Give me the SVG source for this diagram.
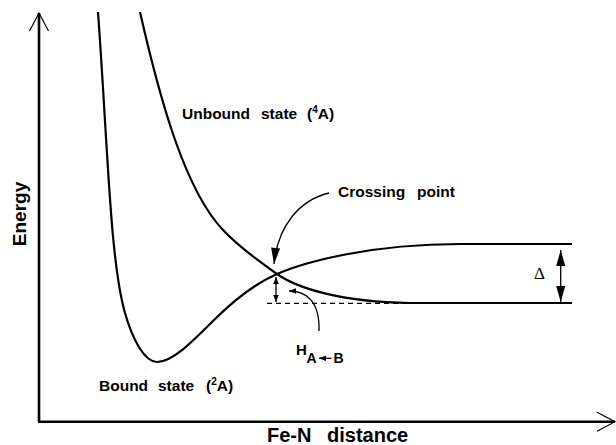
<svg xmlns="http://www.w3.org/2000/svg" width="616" height="445" viewBox="0 0 616 445">
<style>
  .lbl { font-family: "Liberation Sans", Arial, sans-serif; font-weight: bold; fill: #000; }
  .curve { fill: none; stroke: #000; stroke-width: 2.2; }
  .axis { fill: none; stroke: #000; stroke-width: 2.6; }
  .thin { fill: none; stroke: #000; stroke-width: 1.3; }
  .dash { fill: none; stroke: #000; stroke-width: 1.3; stroke-dasharray: 5 4; }
</style>
<defs>
  <marker id="openHead" markerUnits="userSpaceOnUse" markerWidth="20" markerHeight="22" refX="18" refY="9.5" orient="auto" overflow="visible">
    <path d="M0,0 L18,9.5 L0,19" fill="none" stroke="#000" stroke-width="1.2"/>
  </marker>
  <marker id="bigHead" markerUnits="userSpaceOnUse" markerWidth="16" markerHeight="9" refX="16" refY="4.5" orient="auto-start-reverse" overflow="visible">
    <path d="M0,0 L16,4.5 L0,9 z" fill="#000"/>
  </marker>
  <marker id="smallHead" markerUnits="userSpaceOnUse" markerWidth="7" markerHeight="6" refX="7" refY="2.8" orient="auto-start-reverse" overflow="visible">
    <path d="M0,0 L7,2.8 L0,5.6 z" fill="#000"/>
  </marker>
</defs>

<g id="axes">
  <path class="axis" d="M39,421.7 L39,13" marker-end="url(#openHead)"/>
  <path class="axis" d="M38,421.7 L615,421.7" marker-end="url(#openHead)"/>
  <text class="lbl" font-size="19" transform="translate(26,214) rotate(-90)" text-anchor="middle">Energy</text>
  <text class="lbl" font-size="20" x="267" y="442">Fe-N<tspan x="327">distance</tspan></text>
</g>

<g id="connectors">
  <path class="dash" d="M267,303.3 L572,303.3"/>
  <path class="thin" d="M329,193 C300,200 278,225 274,264" marker-end="url(#bigHead)"/>
  <path class="thin" d="M276,277 L276,302" marker-start="url(#smallHead)" marker-end="url(#smallHead)"/>
  <path class="thin" d="M319,331 C320,300 305,291 289,291" stroke-width="1" marker-end="url(#smallHead)"/>
  <path class="thin" d="M560.7,250 L560.7,302" marker-start="url(#bigHead)" marker-end="url(#bigHead)"/>
</g>

<g id="bound-state">
  <path class="curve" d="M98,12 C108,150 110,260 125,313 C133,341 145,362 157,362 C172,362 190,344 213,321 C229,305 254,284 277,274 C305,262 370,244 460,244 L572,244"/>
  <text class="lbl" font-size="15.5" x="99" y="391">Bound<tspan x="158">state</tspan><tspan x="206">(</tspan><tspan font-size="10" dy="-6.5">2</tspan><tspan dy="6.5">A)</tspan></text>
</g>

<g id="unbound-state">
  <path class="curve" d="M140,12 C160,100 185,190 223,230 C240,248 262,263.5 277,274 C297,288 340,302 410,303 L572,303"/>
  <text class="lbl" font-size="15.5" x="182" y="119">Unbound<tspan x="261">state</tspan><tspan x="307">(</tspan><tspan font-size="10" dy="-6.5">4</tspan><tspan dy="6.5">A)</tspan></text>
</g>

<g id="crossing-point">
  <text class="lbl" font-size="15.5" x="338" y="197">Crossing<tspan x="417">point</tspan></text>
</g>

<g id="coupling">
  <text class="lbl" font-size="15" x="296" y="355">H</text>
  <text class="lbl" font-size="14" x="306.5" y="363.3">A</text>
  <path class="thin" d="M331.5,358.3 L319,358.3" stroke-width="1.6" marker-end="url(#smallHead)"/>
  <text class="lbl" font-size="14" x="333.5" y="363.3">B</text>
</g>

<g id="delta">
  <text font-family="Liberation Serif, 'Times New Roman', serif" font-size="17" x="534" y="279.3">Δ</text>
</g>
</svg>
